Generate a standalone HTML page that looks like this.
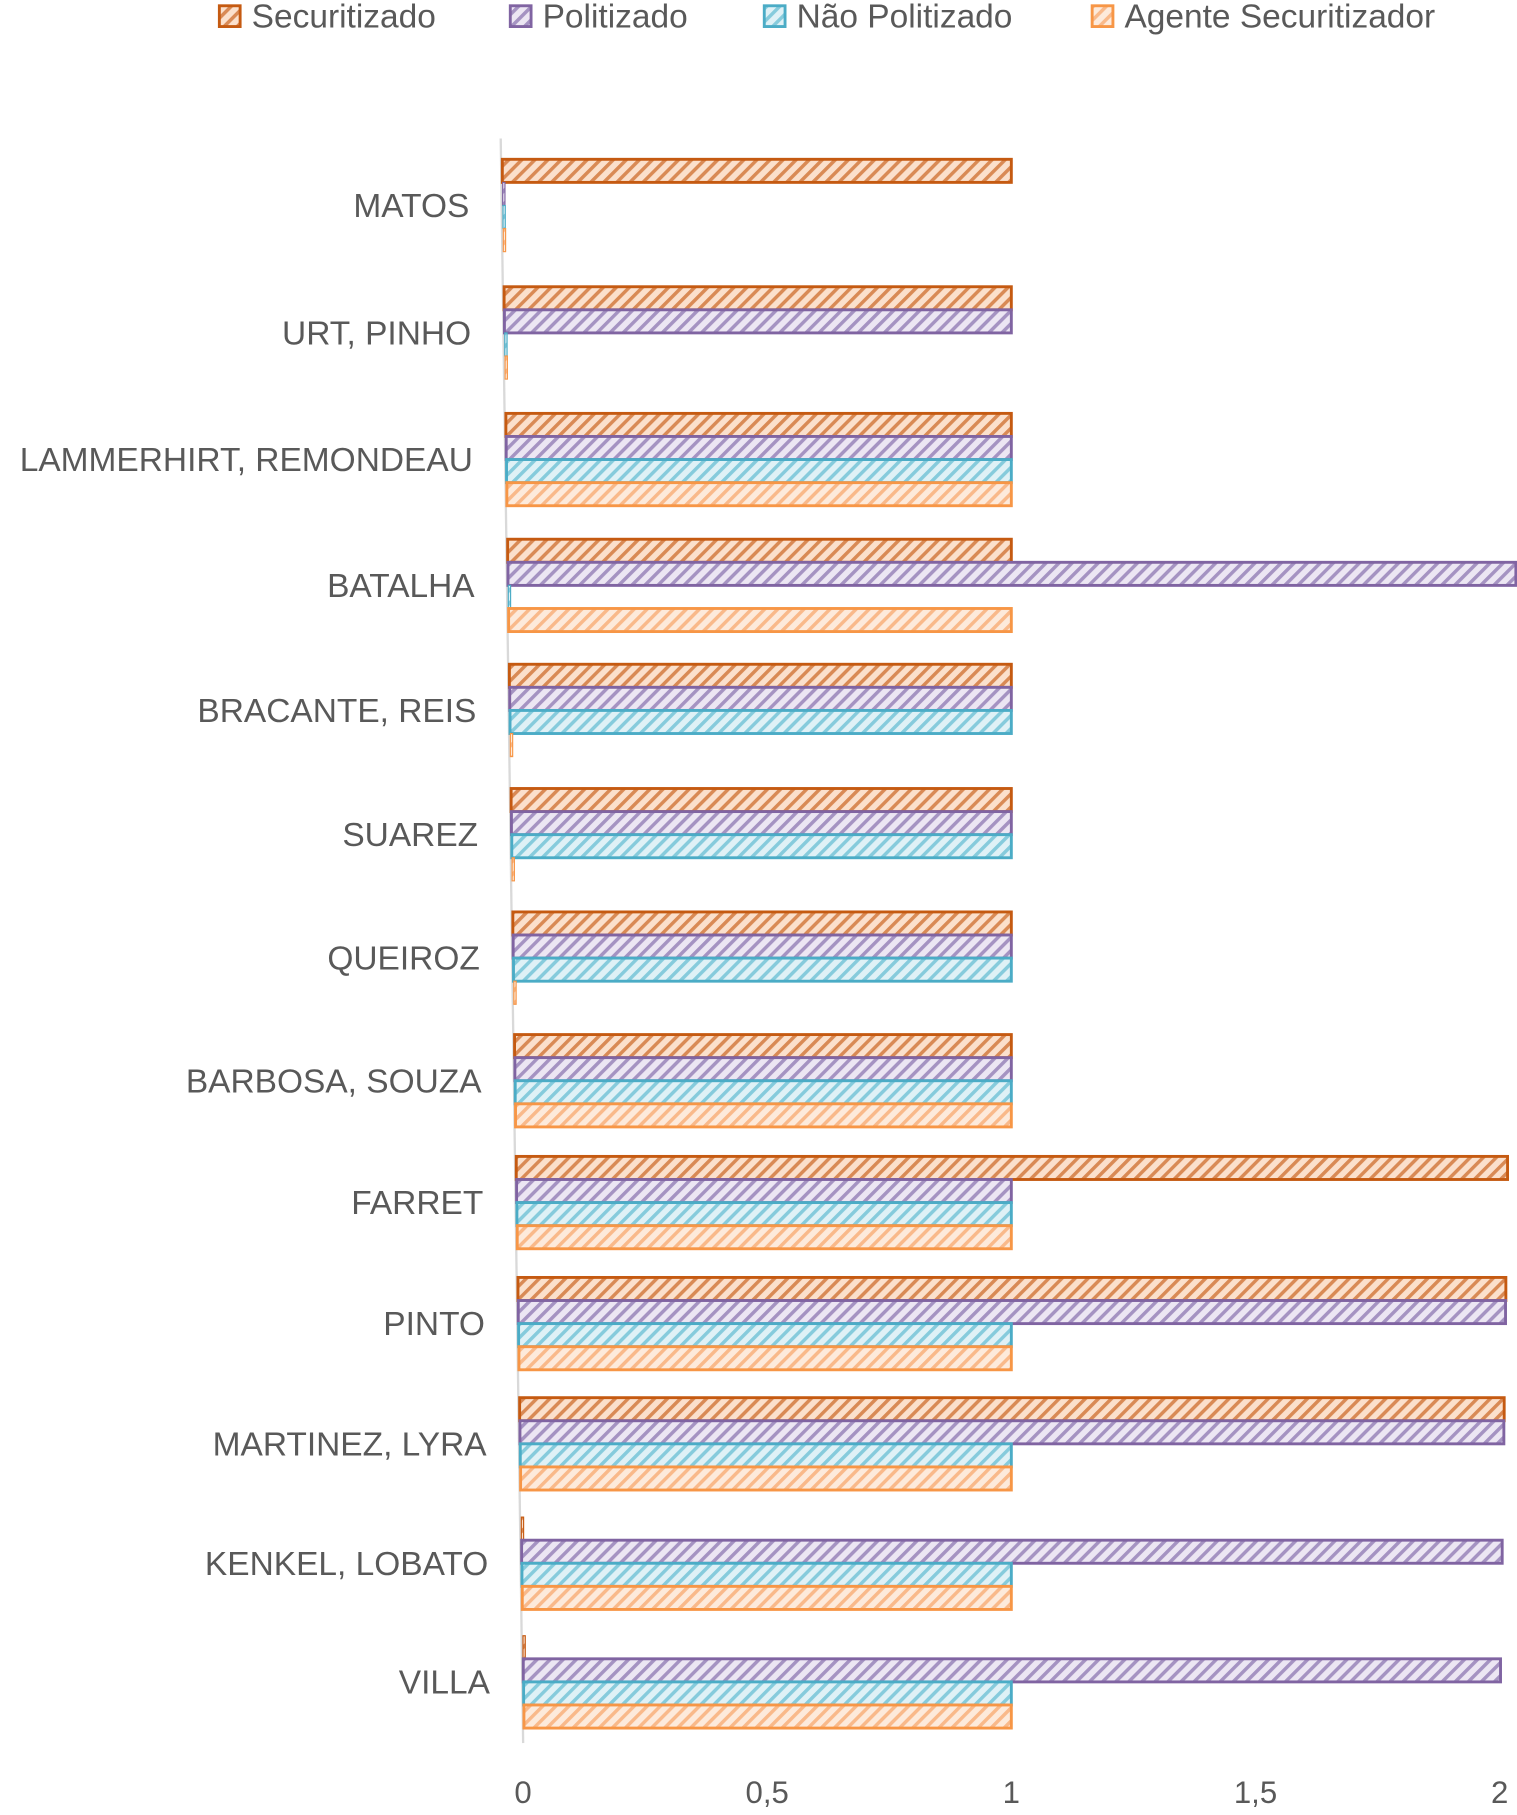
<!DOCTYPE html>
<html><head><meta charset="utf-8"><style>
body{margin:0;background:#fff;}
svg text{font-family:"Liberation Sans",sans-serif;fill:#595959;}
</style></head><body>
<svg id="c" width="1517" height="1810" viewBox="0 0 1314 1568" preserveAspectRatio="none" xmlns="http://www.w3.org/2000/svg">
<defs>
<pattern id="p0" width="8" height="8" patternUnits="userSpaceOnUse" patternTransform="rotate(45)"><rect width="8" height="8" fill="#fbe0cc"/><rect width="3" height="8" fill="#d98a55"/></pattern>
<pattern id="p1" width="8" height="8" patternUnits="userSpaceOnUse" patternTransform="rotate(45)"><rect width="8" height="8" fill="#ece6f3"/><rect width="3" height="8" fill="#a593c2"/></pattern>
<pattern id="p2" width="8" height="8" patternUnits="userSpaceOnUse" patternTransform="rotate(45)"><rect width="8" height="8" fill="#dff1f6"/><rect width="3" height="8" fill="#86cbdc"/></pattern>
<pattern id="p3" width="8" height="8" patternUnits="userSpaceOnUse" patternTransform="rotate(45)"><rect width="8" height="8" fill="#fdeadb"/><rect width="3" height="8" fill="#f9b98a"/></pattern>
</defs>
</svg>
<script>
const categories=["MATOS","URT, PINHO","LAMMERHIRT, REMONDEAU","BATALHA","BRACANTE, REIS","SUAREZ","QUEIROZ","BARBOSA, SOUZA","FARRET","PINTO","MARTINEZ, LYRA","KENKEL, LOBATO","VILLA"];
const seriesNames=["Securitizado","Politizado","Não Politizado","Agente Securitizador"];
const securitizado=[1,1,1,1,1,1,1,1,2,2,2,0,0];
const politizado=[0,1,1,2,1,1,1,1,1,2,2,2,2];
const naoPolitizado=[0,0,1,0,1,1,1,1,1,1,1,1,1];
const agente=[0,0,1,1,0,0,0,1,1,1,1,1,1];
const tickLabels=["0","0,5","1","1,5","2"];
const tickValues=[0,0.5,1,1.5,2];
const series=[securitizado,politizado,naoPolitizado,agente];
const strokes=["#c55a11","#8064a2","#4bacc6","#f79646"];
const svg=document.getElementById('c');
const NS="http://www.w3.org/2000/svg";
function el(t,a){const e=document.createElementNS(NS,t);for(const k in a)e.setAttribute(k,a[k]);svg.appendChild(e);return e;}
function yCenter(i){return 178+110.75*i-0.347*i*i;}
function zeroAt(y){return 434+(y-140)*19/1360;}
function xScale(v,y){const z=zeroAt(y);return z+v*(876-z);}
const ax=el('line',{x1:zeroAt(120),y1:120,x2:zeroAt(1510),y2:1510,stroke:'#d9d9d9','stroke-width':2});

categories.forEach((c,i)=>{
  const yc=yCenter(i);
  const t=el('text',{x:zeroAt(yc)-28,y:yc+10,'font-size':29,'text-anchor':'end'});
  t.textContent=c;
  
  series.forEach((s,k)=>{
    const by=yc-30+k*20;
    const x0=zeroAt(by);
    const v=s[i];
    let w=xScale(v,by)-x0;
    if(v===0)w=3;
    const r=el('rect',{x:x0+1,y:by-10,width:Math.max(w-1,2),height:20,fill:'url(#p'+k+')',stroke:strokes[k],'stroke-width':v===0?1:2.5});
    
    
  });
});
tickValues.forEach((v,j)=>{
  const x=xScale(v,1500);
  const t=el('text',{x:x,y:1562,'font-size':27,'text-anchor':'middle'});
  t.textContent=tickLabels[j];
  
});
const legX=[190,442,662,946];
seriesNames.forEach((n,k)=>{
  const r=el('rect',{x:legX[k],y:5,width:18,height:18,fill:'url(#p'+k+')',stroke:strokes[k],'stroke-width':2.5});
  
  const t=el('text',{x:legX[k]+28,y:24,'font-size':29});
  t.textContent=n;
  
});
</script>
</body></html>
